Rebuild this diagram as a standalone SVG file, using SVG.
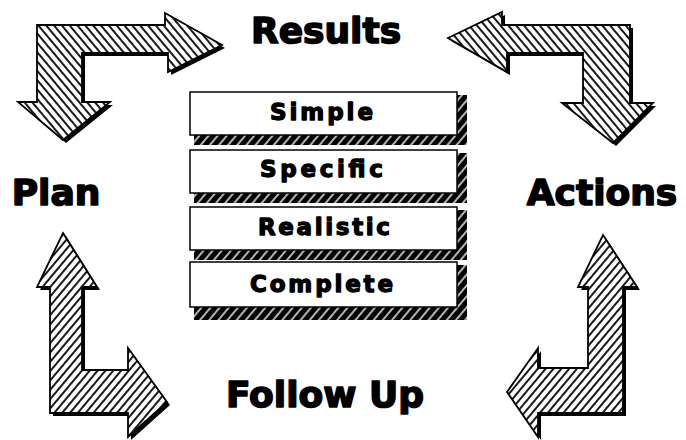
<svg xmlns="http://www.w3.org/2000/svg" width="686" height="440" viewBox="0 0 686 440">
  <defs>
    <pattern id="hatchF" patternUnits="userSpaceOnUse" width="6" height="6" patternTransform="rotate(40)">
      <rect width="6" height="6" fill="#fff"/>
      <line x1="1" y1="0" x2="1" y2="6" stroke="#000" stroke-width="1.8"/>
    </pattern>
    <pattern id="hatchB" patternUnits="userSpaceOnUse" width="6" height="6" patternTransform="rotate(-40)">
      <rect width="6" height="6" fill="#fff"/>
      <line x1="1" y1="0" x2="1" y2="6" stroke="#000" stroke-width="1.8"/>
    </pattern>
    <pattern id="shade" patternUnits="userSpaceOnUse" width="7" height="7" patternTransform="rotate(40)">
      <rect width="7" height="7" fill="#000"/>
      <line x1="2" y1="0" x2="2" y2="7" stroke="#fff" stroke-width="1.4"/>
    </pattern>
  </defs>
  <style>
    .lbl { font-family: "DejaVu Sans", "Liberation Sans", sans-serif; font-weight: bold; fill: #000; stroke: #000; stroke-linejoin: round; text-anchor: middle; }
    .big { font-size: 36px; stroke-width: 1.6px; }
    .small { font-size: 23px; stroke-width: 1.3px; }
    .box { fill: #fff; stroke: #000; stroke-width: 1.5; }
    .shadow { fill: url(#shade); }
    .arrow-sh { fill: #000; }
    .arrowF { fill: url(#hatchF); stroke: #000; stroke-width: 1.8; stroke-linejoin: miter; }
    .arrowB { fill: url(#hatchB); stroke: #000; stroke-width: 1.8; stroke-linejoin: miter; }
  </style>
  <rect width="686" height="440" fill="#fff"/>

  <g id="connectors">
    <g id="arrow-plan-results">
      <polygon class="arrow-sh" transform="translate(3,3)" points="37,25 165,25 165,13 222,45 168,72 168,53 82,53 82,102 110,102 63,140 18,102 37,102"/>
      <polygon class="arrowB" points="37,25 165,25 165,13 222,45 168,72 168,53 82,53 82,102 110,102 63,140 18,102 37,102"/>
    </g>
    <g id="arrow-results-actions">
      <polygon class="arrow-sh" transform="translate(3,3)" points="448,38 502,12 502,25 630,25 630,103 653,103 613,143 562,103 583,103 583,53 507,53 507,72"/>
      <polygon class="arrowB" points="448,38 502,12 502,25 630,25 630,103 653,103 613,143 562,103 583,103 583,53 507,53 507,72"/>
    </g>
    <g id="arrow-followup-plan">
      <polygon class="arrow-sh" transform="translate(3,3)" points="63,233 97,287 82,287 82,370 128,370 128,348 167,402 128,437 128,413 50,413 50,287 37,287"/>
      <polygon class="arrowF" points="63,233 97,287 82,287 82,370 128,370 128,348 167,402 128,437 128,413 50,413 50,287 37,287"/>
    </g>
    <g id="arrow-actions-followup">
      <polygon class="arrow-sh" transform="translate(3,3)" points="603,235 637,287 623,287 623,413 538,413 538,437 507,392 538,348 538,368 588,368 588,287 578,287"/>
      <polygon class="arrowF" points="603,235 637,287 623,287 623,413 538,413 538,437 507,392 538,348 538,368 588,368 588,287 578,287"/>
    </g>
  </g>

  <g id="results"><text class="lbl big" x="326" y="43">Results</text></g>
  <g id="plan"><text class="lbl big" x="56" y="205">Plan</text></g>
  <g id="actions"><text class="lbl big" x="602" y="205">Actions</text></g>
  <g id="followup"><text class="lbl big" x="325" y="407">Follow Up</text></g>

  <g id="box-simple">
    <polygon class="shadow" points="194,135 457,135 457,95 467,95 467,145 194,145"/>
    <rect class="box" x="190" y="92" width="267" height="43"/>
    <text class="lbl small" x="321.5" y="120" textLength="103" lengthAdjust="spacing">Simple</text>
  </g>
  <g id="box-specific">
    <polygon class="shadow" points="194,193 457,193 457,153 467,153 467,203 194,203"/>
    <rect class="box" x="190" y="150" width="267" height="43"/>
    <text class="lbl small" x="321.5" y="177" textLength="123" lengthAdjust="spacing">Specific</text>
  </g>
  <g id="box-realistic">
    <polygon class="shadow" points="194,250 457,250 457,210 467,210 467,260 194,260"/>
    <rect class="box" x="190" y="207" width="267" height="43"/>
    <text class="lbl small" x="324" y="235" textLength="132" lengthAdjust="spacing">Realistic</text>
  </g>
  <g id="box-complete">
    <polygon class="shadow" points="194,307 457,307 457,265 467,265 467,320 194,320"/>
    <rect class="box" x="190" y="262" width="267" height="45"/>
    <text class="lbl small" x="321.5" y="292" textLength="143" lengthAdjust="spacing">Complete</text>
  </g>
</svg>
